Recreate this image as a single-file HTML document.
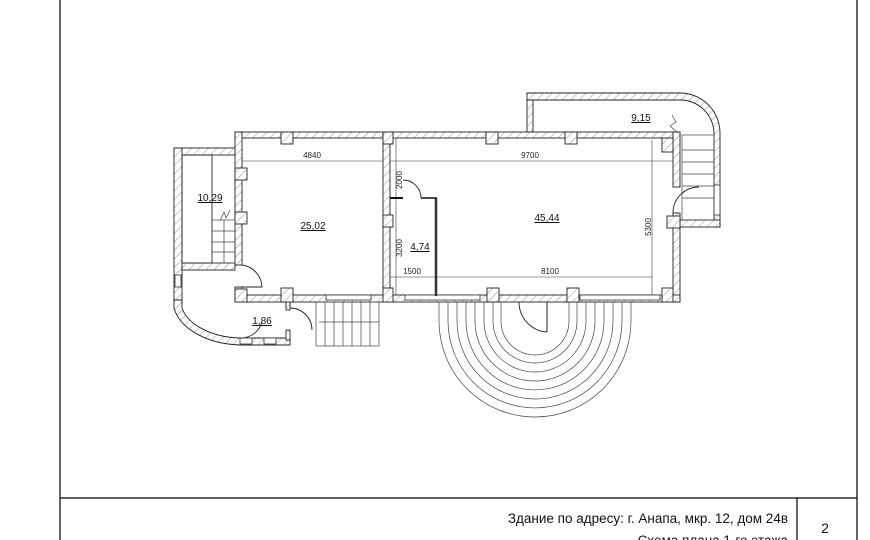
<!DOCTYPE html>
<html><head><meta charset="utf-8"><style>
html,body{margin:0;padding:0;background:#fff;}
svg{display:block;}
text{font-family:"Liberation Sans","DejaVu Sans",sans-serif;}
</style></head><body>
<svg width="870" height="540" viewBox="0 0 870 540" xmlns="http://www.w3.org/2000/svg">
<defs>
<pattern id="h" patternUnits="userSpaceOnUse" width="6" height="6" patternTransform="rotate(45)">
<rect width="6" height="6" fill="#fff"/><line x1="0" y1="0" x2="0" y2="6" stroke="#777" stroke-width="0.8"/>
</pattern>
</defs>
<g stroke="#000" stroke-width="1.2" fill="none">
<line x1="60" y1="0" x2="60" y2="540"/>
<line x1="857" y1="0" x2="857" y2="540"/>
<line x1="60" y1="498" x2="857" y2="498"/>
<line x1="797" y1="498" x2="797" y2="540"/>
</g>
<text x="788" y="523" font-size="13.5" text-anchor="end" fill="#111">Здание по адресу: г. Анапа, мкр. 12, дом 24в</text>
<text x="788" y="545" font-size="13.5" text-anchor="end" fill="#111">Схема плана 1-го этажа</text>
<text x="825" y="533" font-size="14" text-anchor="middle" fill="#111">2</text>

<g fill="url(#h)" stroke="#222" stroke-width="0.9">
<rect x="235" y="132" width="445" height="6"/>
<rect x="527" y="93" width="6" height="39"/>
<path d="M527 93 H680 A40 40 0 0 1 720 133 V227 H714 V133 A34 34 0 0 0 680 100 H527 Z"/>
<rect x="680" y="220" width="40" height="7"/>
<rect x="673" y="132" width="7" height="55"/>
<rect x="673" y="213" width="7" height="89"/>
<rect x="235" y="132" width="7" height="133"/>
<rect x="235" y="287" width="7" height="15"/>
<rect x="383" y="132" width="7" height="170"/>
<rect x="235" y="295" width="445" height="7"/>
<rect x="174" y="148" width="61" height="7"/>
<rect x="174" y="148" width="8" height="160"/>
<rect x="182" y="263" width="53" height="7"/>
<path d="M174 300 V308 A70 45 0 0 0 240 345 H290 V338 H240 A62 38 0 0 1 182 308 V300 Z"/>
<rect x="286" y="302" width="4" height="8"/>
<rect x="286" y="330" width="4" height="10"/>
<rect x="281" y="132" width="12" height="12"/>
<rect x="383" y="132" width="10" height="12"/>
<rect x="486" y="132" width="12" height="12"/>
<rect x="565" y="132" width="12" height="12"/>
<rect x="662" y="138" width="11" height="14"/>
<rect x="235" y="168" width="12" height="12"/>
<rect x="235" y="212" width="12" height="12"/>
<rect x="383" y="215" width="10" height="12"/>
<rect x="235" y="289" width="12" height="13"/>
<rect x="281" y="288" width="12" height="14"/>
<rect x="383" y="288" width="10" height="14"/>
<rect x="487" y="288" width="12" height="14"/>
<rect x="567" y="288" width="12" height="14"/>
<rect x="662" y="288" width="11" height="14"/>
<rect x="667" y="216" width="13" height="12"/>
</g>
<g fill="#fff" stroke="#333" stroke-width="0.8">
<rect x="326" y="295" width="45" height="5"/>
<rect x="405" y="295" width="75" height="5"/>
<rect x="580" y="295" width="80" height="5"/>
<rect x="240" y="338" width="12" height="6"/>
<rect x="264" y="338" width="12" height="6"/>
<rect x="714" y="185" width="6" height="30"/>
<rect x="175" y="275" width="6" height="12"/>
</g>
<rect x="182" y="155" width="30" height="108" fill="none" stroke="#222" stroke-width="0.9"/>
<g stroke="#444" stroke-width="0.7" fill="none">
<rect x="212" y="220" width="23" height="43"/>
<line x1="212" y1="231" x2="235" y2="231"/><line x1="212" y1="242" x2="235" y2="242"/><line x1="212" y1="252" x2="235" y2="252"/>
<line x1="224" y1="220" x2="224" y2="263"/>
<path d="M220 221 L224 212 L226 218 L230 210"/>
<rect x="316" y="302" width="63" height="44"/>
<line x1="325" y1="302" x2="325" y2="346"/><line x1="334" y1="302" x2="334" y2="346"/><line x1="343" y1="302" x2="343" y2="346"/><line x1="352" y1="302" x2="352" y2="346"/><line x1="361" y1="302" x2="361" y2="346"/><line x1="370" y1="302" x2="370" y2="346"/>
<line x1="319" y1="322" x2="379" y2="322"/>
<rect x="682" y="135" width="32" height="85"/>
<line x1="682" y1="150" x2="714" y2="150"/><line x1="682" y1="162" x2="714" y2="162"/><line x1="682" y1="174" x2="714" y2="174"/><line x1="682" y1="186" x2="714" y2="186"/><line x1="682" y1="198" x2="714" y2="198"/>
<path d="M672 115 L676 122 L670 126 L678 133"/>
<path d="M439 302 V321 A96 96 0 0 0 631 321 V302"/>
<path d="M448 302 V321 A87 87 0 0 0 622 321 V302"/>
<path d="M457 302 V321 A78 78 0 0 0 613 321 V302"/>
<path d="M466 302 V321 A69 69 0 0 0 604 321 V302"/>
<path d="M475 302 V321 A60 60 0 0 0 595 321 V302"/>
<path d="M484 302 V321 A51 51 0 0 0 586 321 V302"/>
<path d="M493 302 V321 A42 42 0 0 0 577 321 V302"/>
<path d="M501 302 V321 A34 34 0 0 0 569 321 V302"/>
</g>
<path d="M519 302 A30 30 0 0 0 547 332" fill="#fff" stroke="#222" stroke-width="0.9"/>
<line x1="547" y1="302" x2="547" y2="332" stroke="#222" stroke-width="1"/>
<g fill="none" stroke="#222" stroke-width="0.9">
<path d="M242 265 A23 23 0 0 1 262 287 H242"/>
<path d="M673 213 A26 26 0 0 1 699 187"/>
<path d="M403 180 A18 18 0 0 1 421 198"/>
<path d="M262 322 A22 22 0 0 1 240 338"/>
<path d="M290 308 A22 22 0 0 1 312 330"/>
</g>
<line x1="436" y1="198" x2="436" y2="296" stroke="#333" stroke-width="2.5"/>
<line x1="421" y1="198" x2="437" y2="198" stroke="#111" stroke-width="1.5"/>
<line x1="390" y1="198" x2="403" y2="198" stroke="#111" stroke-width="2"/>
<g stroke="#333" stroke-width="0.6" fill="none">
<line x1="242" y1="161" x2="383" y2="161"/>
<line x1="390" y1="161" x2="673" y2="161"/>
<line x1="390" y1="277" x2="652" y2="277"/>
<line x1="396" y1="138" x2="396" y2="295"/>
<line x1="652" y1="140" x2="652" y2="295"/>
</g>
<g font-size="8" fill="#222">
<text x="312" y="158" text-anchor="middle">4840</text>
<text x="530" y="158" text-anchor="middle">9700</text>
<text x="412" y="274" text-anchor="middle">1500</text>
<text x="550" y="274" text-anchor="middle">8100</text>
<text transform="translate(402,180) rotate(-90)" text-anchor="middle">2000</text>
<text transform="translate(402,248) rotate(-90)" text-anchor="middle">3200</text>
<text transform="translate(651,227) rotate(-90)" text-anchor="middle">5300</text>
</g>
<g font-size="10" fill="#111" text-decoration="underline">
<text x="210" y="201" text-anchor="middle">10,29</text>
<text x="313" y="229" text-anchor="middle">25,02</text>
<text x="420" y="250" text-anchor="middle">4,74</text>
<text x="547" y="221" text-anchor="middle">45,44</text>
<text x="641" y="121" text-anchor="middle">9,15</text>
<text x="262" y="324" text-anchor="middle">1,86</text>
</g>
</svg>
</body></html>
